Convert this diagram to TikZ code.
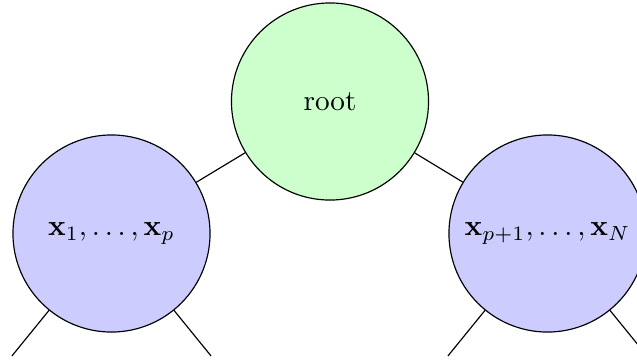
\documentclass[tikz,border=0pt]{standalone}
\begin{document}
\begin{tikzpicture}[x=0.3425pt,y=-0.3425pt,
  treenode/.style={circle,draw=black,minimum size=67.5pt,inner sep=0pt},
  rootnode/.style={treenode,fill=green!20},
  childnode/.style={treenode,fill=blue!20},
  edge/.style={draw=black}]
\useasboundingbox (0,0) rectangle (637,360);
\clip (0,0) rectangle (637,360);
\node[rootnode] (root) at (330,101.5) {root};
\node[childnode] (L) at (111.5,233.5) {$\mathbf{x}_1,\ldots,\mathbf{x}_p$};
\node[childnode] (R) at (547.5,233.5) {$\mathbf{x}_{p+1},\ldots,\mathbf{x}_N$};
\coordinate (LL) at (11.9,356);
\coordinate (LR) at (211.1,356);
\coordinate (RL) at (447.9,356);
\coordinate (RR) at (647.1,356);
\draw[edge] (root) -- (L);
\draw[edge] (root) -- (R);
\draw[edge] (L) -- (LL);
\draw[edge] (L) -- (LR);
\draw[edge] (R) -- (RL);
\draw[edge] (R) -- (RR);
\end{tikzpicture}
\end{document}
